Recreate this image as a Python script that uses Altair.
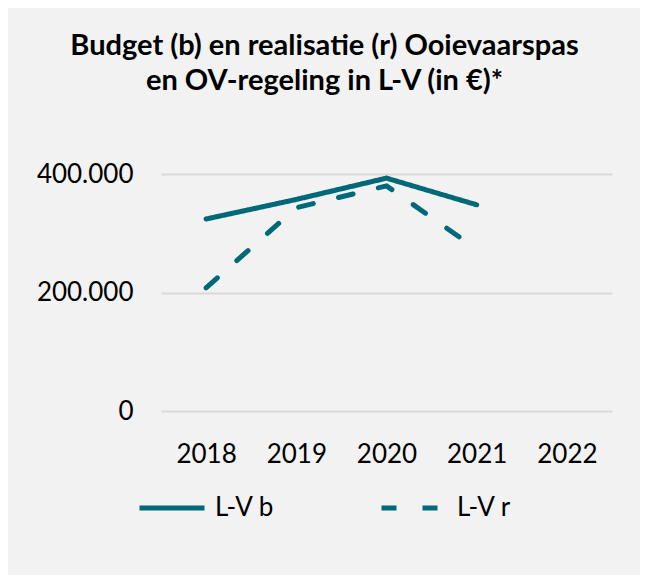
import altair as alt
import pandas as pd

years = ["2018", "2019", "2020", "2021", "2022"]
series_names = ["L-V b", "L-V r"]
budget = [324000, 357000, 393000, 348000]
realisatie = [208000, 343000, 380000, 273000]
y_ticks = [0, 200000, 400000]

rows = []
for name, vals in zip(series_names, [budget, realisatie]):
    for yr, v in zip(years, vals):
        rows.append({"jaar": yr, "serie": name, "waarde": v})
df = pd.DataFrame(rows)

FONT = "Lato"
TEAL = "#006979"

chart = alt.Chart(df).mark_line(strokeWidth=5, strokeCap="round", color=TEAL).encode(
    x=alt.X("jaar:N", scale=alt.Scale(domain=years, padding=0.5),
            axis=alt.Axis(title=None, labelAngle=0, ticks=False, domain=False, grid=False,
                          labelPadding=30, labelFontSize=26, labelFont=FONT, labelColor="#000000")),
    y=alt.Y("waarde:Q", scale=alt.Scale(domain=[0, 400000], nice=False),
            axis=alt.Axis(title=None, values=y_ticks, ticks=False, domain=False, grid=True,
                          gridColor="#d9d9d9", gridWidth=2,
                          labelExpr="datum.value == 0 ? '0' : format(datum.value / 1000, 'd') + '.000'",
                          labelPadding=28, labelFontSize=26, labelFont=FONT, labelColor="#000000")),
    strokeDash=alt.StrokeDash("serie:N",
                              scale=alt.Scale(domain=series_names, range=[[1, 0], [15, 26]]),
                              legend=alt.Legend(title=None, orient="none", direction="horizontal",
                                                legendX=-24, legendY=299,
                                                symbolType="stroke", symbolSize=4225,
                                                symbolStrokeWidth=5, symbolStrokeColor=TEAL,
                                                labelFontSize=26, labelFont=FONT, labelColor="#000000",
                                                labelOffset=8, columnPadding=96)),
).properties(
    width=451, height=237,
    title=alt.Title(["Budget (b) en realisatie (r) Ooievaarspas", "en OV-regeling in L-V (in €)*"],
                    anchor="middle", dx=-62, fontSize=29, font=FONT, fontWeight="bold",
                    color="#000000", lineHeight=35, offset=65),
    background="#f2f2f2",
    padding={"left": 153, "top": 166, "right": 28, "bottom": 164},
    autosize=alt.AutoSizeParams(type="none"),
).configure_view(stroke=None)

chart.save("out.html", embed_options={"renderer": "svg", "actions": False})
